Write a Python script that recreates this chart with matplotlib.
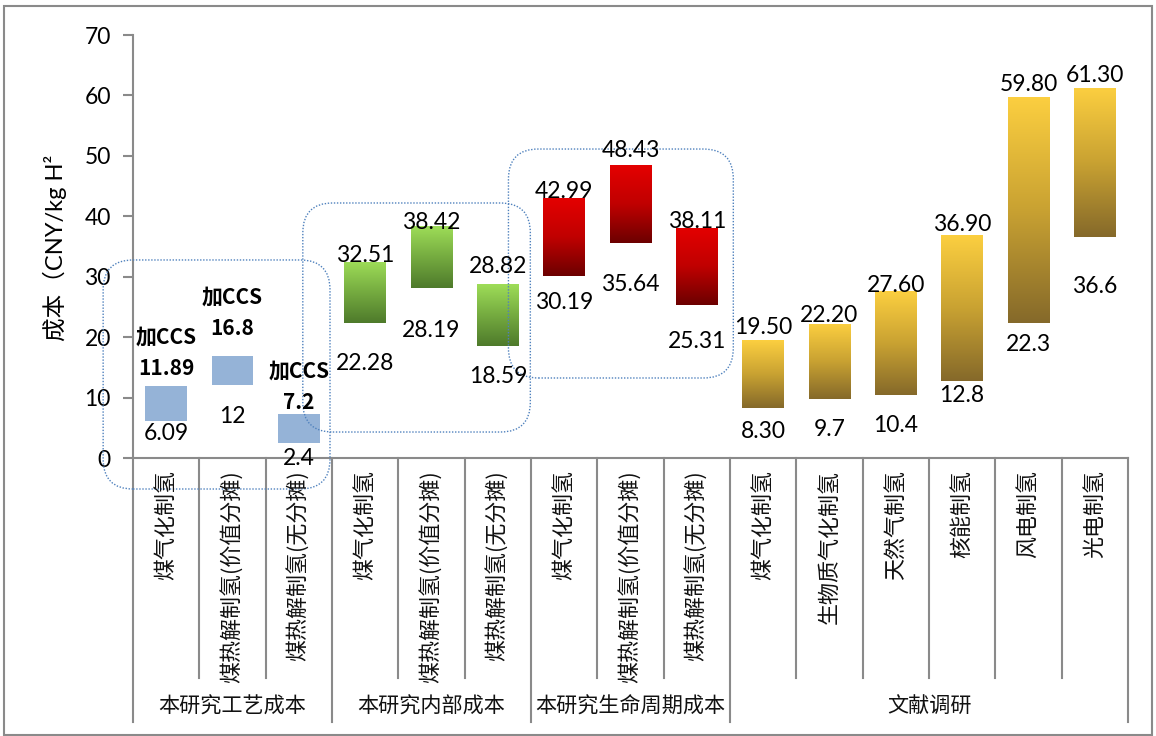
import numpy as np
import matplotlib
matplotlib.use('Agg')
import matplotlib.pyplot as plt
from matplotlib.colors import LinearSegmentedColormap
from matplotlib.patches import FancyBboxPatch, Rectangle

plt.rcParams['font.family'] = ['Lato', 'Noto Sans CJK SC', 'DejaVu Sans']

# cost ranges per route (CNY/kg H2)
categories = ['煤气化制氢', '煤热解制氢(价值分摊)', '煤热解制氢(无分摊)',
              '煤气化制氢', '煤热解制氢(价值分摊)', '煤热解制氢(无分摊)',
              '煤气化制氢', '煤热解制氢(价值分摊)', '煤热解制氢(无分摊)',
              '煤气化制氢', '生物质气化制氢', '天然气制氢', '核能制氢', '风电制氢', '光电制氢']
low_labels = ['6.09', '12', '2.4', '22.28', '28.19', '18.59', '30.19', '35.64', '25.31',
              '8.30', '9.7', '10.4', '12.8', '22.3', '36.6']
high_labels = ['11.89', '16.8', '7.2', '32.51', '38.42', '28.82', '42.99', '48.43', '38.11',
               '19.50', '22.20', '27.60', '36.90', '59.80', '61.30']
low = [float(s) for s in low_labels]
high = [float(s) for s in high_labels]
ccs_prefix = ['加CCS', '加CCS', '加CCS'] + [''] * 12
groups = ['本研究工艺成本', '本研究内部成本', '本研究生命周期成本', '文献调研']
group_sizes = [3, 3, 3, 6]
yticks = [0, 10, 20, 30, 40, 50, 60, 70]

# label offsets in pixels (above top / below bottom)
hi_off = [18, 28, 12, 6, 3, 17, 7, 15, 6, 13, 8, 6, 11, 12, 12]
lo_off = [12, 31, 15, 40, 43, 31, 27, 42, 36, 24, 30, 30, 15, 21, 50]

W, H = 1156, 736
fig = plt.figure(figsize=(W / 100, H / 100), dpi=100)
ax_l, ax_r, ax_t, ax_b = 133, 1128, 35, 458
ax = fig.add_axes([ax_l / W, 1 - ax_b / H, (ax_r - ax_l) / W, (ax_b - ax_t) / H])

grey = '#8a8a8a'
x = np.arange(len(categories))
heights = np.array(high) - np.array(low)

cmaps = {
    'blue': None,
    'green': LinearSegmentedColormap.from_list('g', [(0, '#4e7a2b'), (0.55, '#79b042'), (1, '#9edd58')]),
    'red': LinearSegmentedColormap.from_list('r', [(0, '#6c0000'), (0.5, '#c00000'), (1, '#e40000')]),
    'gold': LinearSegmentedColormap.from_list('y', [(0, '#85692a'), (0.5, '#c9a232'), (1, '#fccf40')]),
}
series = ['blue'] * 3 + ['green'] * 3 + ['red'] * 3 + ['gold'] * 6

bars = ax.bar(x, heights, bottom=low, width=0.63, color='#95b3d7', zorder=2)
grad = np.linspace(0, 1, 256).reshape(-1, 1)
for b, s in zip(bars, series):
    if cmaps[s] is None:
        continue
    b.set_facecolor('none')
    x0, y0 = b.get_x(), b.get_y()
    im = ax.imshow(grad, cmap=cmaps[s], origin='lower', aspect='auto',
                   extent=[x0, x0 + b.get_width(), y0, y0 + b.get_height()], zorder=2)
    im.set_clip_path(b)

ax.set_xlim(-0.5, len(categories) - 0.5)
ax.set_ylim(0, 70)
ax.set_yticks(yticks)
ax.set_xticks([])
for sp in ['top', 'right']:
    ax.spines[sp].set_visible(False)
for sp in ['left', 'bottom']:
    ax.spines[sp].set_color(grey)
    ax.spines[sp].set_linewidth(1.5)
ax.tick_params(axis='y', length=7, width=1.5, color=grey, pad=9, labelsize=16.5)

# value labels
for i in range(len(categories)):
    if ccs_prefix[i]:
        kw = dict(fontsize=15, fontweight='bold', family=['Noto Sans CJK SC'])
    else:
        kw = dict(fontsize=16.5)
    ax.annotate(high_labels[i], (x[i], high[i]), xytext=(0, hi_off[i]), textcoords='offset pixels',
                ha='center', va='center', zorder=4, annotation_clip=False, **kw)
    if ccs_prefix[i]:
        ax.annotate(ccs_prefix[i], (x[i], high[i]), xytext=(0, hi_off[i] + 31),
                    textcoords='offset pixels', ha='center', va='center', zorder=4, **kw)
    ax.annotate(low_labels[i], (x[i], low[i]), xytext=(0, -lo_off[i]), textcoords='offset pixels',
                ha='center', va='center', fontsize=16.5, zorder=4, annotation_clip=False)

# dotted rounded frames around the study groups
px_x = (ax_r - ax_l) / len(categories)
px_y = (ax_b - ax_t) / 70
frames = [(-0.95, 2.47, -5.13, 32.77), (2.06, 5.49, 4.30, 42.2), (5.16, 8.55, 13.24, 51.13)]
for fx0, fx1, fy0, fy1 in frames:
    r = 30 / px_x
    box = FancyBboxPatch((fx0, fy0), fx1 - fx0, fy1 - fy0,
                         boxstyle=f'round,pad=0,rounding_size={r}', mutation_aspect=px_x / px_y,
                         fill=False, ec='#4f81bd', lw=1.0, ls=(0, (1, 1.2)),
                         transform=ax.transData, clip_on=False, zorder=3)
    ax.add_patch(box)

# two-level category axis
xt = ax.get_xaxis_transform()
inner_end = -(678 - ax_b) / (ax_b - ax_t)
outer_end = -(722 - ax_b) / (ax_b - ax_t)
bounds = np.cumsum([0] + group_sizes) - 0.5
for k in range(len(categories) + 1):
    xb = k - 0.5
    yend = outer_end if xb in bounds else inner_end
    ax.plot([xb, xb], [0, yend], color=grey, lw=1.5, transform=xt, clip_on=False, zorder=1)
for i, c in enumerate(categories):
    ax.text(x[i], -(470 - ax_b) / (ax_b - ax_t), c, rotation=90, ha='center', va='top',
            fontsize=15.8, family=['Noto Sans CJK SC'], transform=xt, color='#111111')
for g, a, b in zip(groups, bounds[:-1], bounds[1:]):
    ax.text((a + b) / 2, -(707 - ax_b) / (ax_b - ax_t), g, ha='center', va='center',
            fontsize=15.2, family=['Noto Sans CJK SC'], transform=xt, color='#111111')

fig.text(55 / W, 1 - 248 / H, '成本（CNY/kg H²', rotation=90, ha='center', va='center', fontsize=17)

# outer chart border
fig.patches.append(Rectangle((4 / W, 1 / H), (W - 8) / W, (H - 7) / H, transform=fig.transFigure,
                             fill=False, ec=grey, lw=1.5))

fig.savefig('out.png', dpi=100)
